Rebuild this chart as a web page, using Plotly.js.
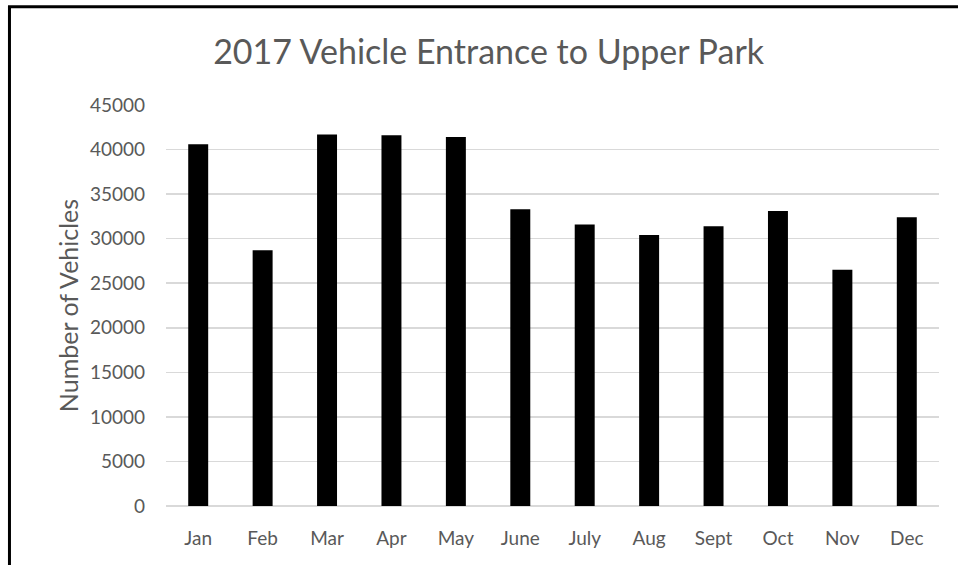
<!DOCTYPE html>
<html>
<head>
<meta charset="utf-8">
<script src="https://cdn.plot.ly/plotly-3.0.1.min.js"></script>
<style>
html,body{margin:0;padding:0;background:#fff;}
#chart{width:958px;height:565px;}
</style>
</head>
<body>
<div id="chart"></div>
<script>
var months = ["Jan","Feb","Mar","Apr","May","June","July","Aug","Sept","Oct","Nov","Dec"];
var vehicles = [40600, 28700, 41700, 41600, 41400, 33300, 31600, 30400, 31400, 33100, 26500, 32400];
var yTicks = [0,5000,10000,15000,20000,25000,30000,35000,40000,45000];

var FONT = "Lato, 'Open Sans', sans-serif";
var GREY = "#595959";

var trace = {
  type: "bar",
  x: months,
  y: vehicles,
  marker: {color: "#000000", line: {width: 0}},
  hoverinfo: "x+y"
};

var layout = {
  width: 958,
  height: 565,
  margin: {l: 166, r: 19, t: 105, b: 58.5},
  paper_bgcolor: "#ffffff",
  plot_bgcolor: "#ffffff",
  showlegend: false,
  bargap: 0.69,
  title: {
    text: "2017 Vehicle Entrance to Upper Park",
    font: {family: FONT, size: 34, color: GREY},
    x: 0.51, xanchor: "center",
    y: 0.908, yanchor: "middle"
  },
  xaxis: {
    type: "category",
    showgrid: false,
    zeroline: false,
    showline: false,
    ticks: "",
    ticklabelstandoff: 19,
    tickfont: {family: FONT, size: 19, color: GREY}
  },
  yaxis: {
    range: [0, 45000],
    tickvals: yTicks,
    ticktext: yTicks.map(String),
    showgrid: true,
    gridcolor: "#d9d9d9",
    gridwidth: 1.5,
    zeroline: true,
    zerolinecolor: "#d9d9d9",
    zerolinewidth: 1.5,
    showline: false,
    ticks: "",
    ticklabelstandoff: 20,
    tickfont: {family: FONT, size: 19, color: GREY},
    title: {
      text: "Number of Vehicles",
      font: {family: FONT, size: 25, color: GREY},
      standoff: 4
    }
  },
  shapes: [
    {
      type: "path",
      xref: "paper", yref: "paper",
      path: "M -0.2025,-0.5 L -0.2025,1.2453 L 1.1,1.2453",
      line: {color: "#000000", width: 3}
    }
  ]
};

Plotly.newPlot("chart", [trace], layout, {displayModeBar: false, staticPlot: true});
</script>
</body>
</html>
